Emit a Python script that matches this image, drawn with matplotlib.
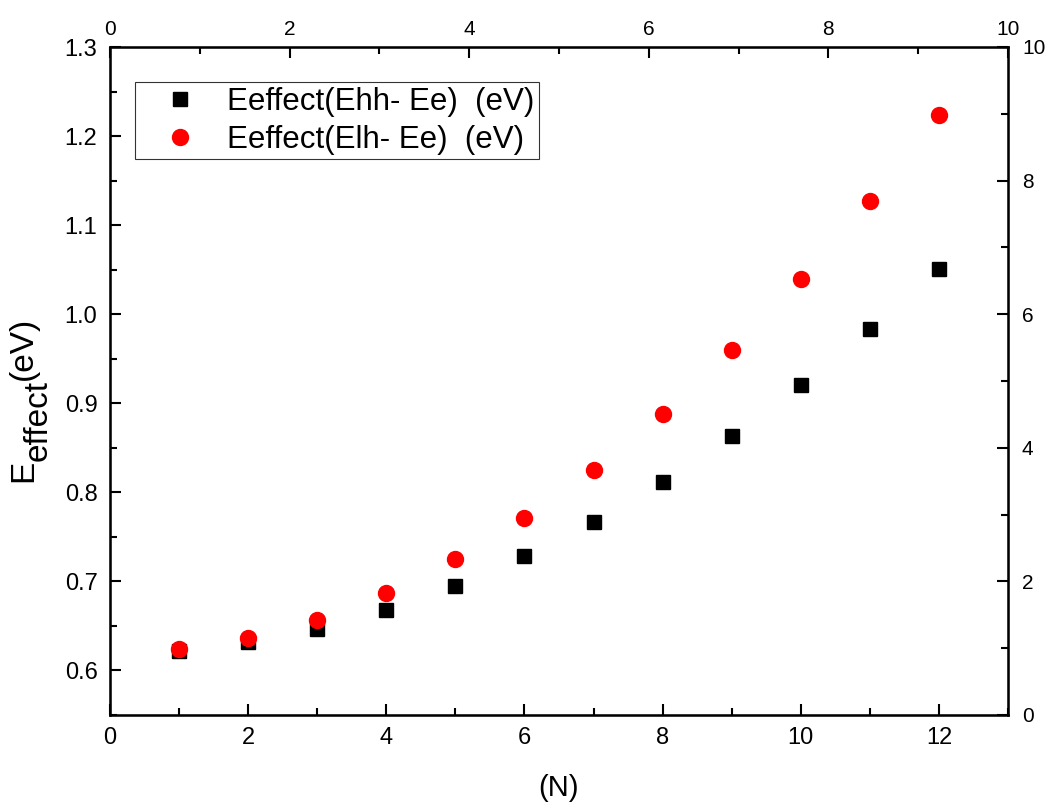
import matplotlib
matplotlib.use("Agg")
import matplotlib.pyplot as plt
from matplotlib.ticker import MultipleLocator

plt.rcParams["font.family"] = ["Liberation Sans", "DejaVu Sans"]

N = [1, 2, 3, 4, 5, 6, 7, 8, 9, 10, 11, 12]
e_hh = [0.622, 0.632, 0.647, 0.668, 0.695, 0.728, 0.767, 0.812, 0.863, 0.920, 0.983, 1.051]
e_lh = [0.624, 0.636, 0.657, 0.687, 0.725, 0.771, 0.825, 0.888, 0.960, 1.040, 1.127, 1.224]

W, H = 1052, 807
fig = plt.figure(figsize=(W / 100, H / 100), dpi=100)
ax = fig.add_axes([110 / W, 1 - 715 / H, 898 / W, 668 / H])

ax.plot(N, e_hh, "s", color="black", ms=10, label="Eeffect(Ehh- Ee)  (eV)")
ax.plot(N, e_lh, "o", color="red", ms=11.5, label="Eeffect(Elh- Ee)  (eV)")

ax.set_xlim(0, 13)
ax.set_ylim(0.55, 1.3)
ax.xaxis.set_major_locator(MultipleLocator(2))
ax.xaxis.set_minor_locator(MultipleLocator(1))
ax.yaxis.set_major_locator(MultipleLocator(0.1))
ax.yaxis.set_minor_locator(MultipleLocator(0.05))
ax.tick_params(which="both", direction="in", width=1.5, labelsize=17, pad=9)
ax.tick_params(which="major", length=8)
ax.tick_params(which="minor", length=5)
for s in ax.spines.values():
    s.set_linewidth(1.8)

ax.set_xlabel("(N)", fontsize=21, labelpad=18)

# y label: subscript drawn at full size, like the original
kw = dict(rotation=90, rotation_mode="anchor", ha="left", va="baseline", fontsize=24)
fig.text(32 / W, 1 - 482 / H, "E", **kw)
fig.text(47 / W, 1 - 461 / H, "effect", **kw)
fig.text(32 / W, 1 - 380 / H, "(eV)", **kw)

# secondary axes (dummy 0-10 scales)
axt = ax.twiny()
axt.set_xlim(0, 10)
axt.xaxis.set_major_locator(MultipleLocator(2))
axt.xaxis.set_minor_locator(MultipleLocator(1))
axt.tick_params(which="both", direction="in", width=1.5, labelsize=15, pad=6)
axt.tick_params(which="major", length=8)
axt.tick_params(which="minor", length=5)

axr = ax.twinx()
axr.set_ylim(0, 10)
axr.yaxis.set_major_locator(MultipleLocator(2))
axr.yaxis.set_minor_locator(MultipleLocator(1))
axr.tick_params(which="both", direction="in", width=1.5, labelsize=15, pad=10)
axr.tick_params(which="major", length=8)
axr.tick_params(which="minor", length=5)

leg = ax.legend(loc="upper left", bbox_to_anchor=(0.0278, 0.9476), borderaxespad=0,
                fontsize=22.5, frameon=True, fancybox=False, edgecolor="black",
                borderpad=0.15, handlelength=2.6, handletextpad=0.2, labelspacing=0.25)
leg.get_frame().set_linewidth(0.8)

fig.savefig("out.png", dpi=100)
